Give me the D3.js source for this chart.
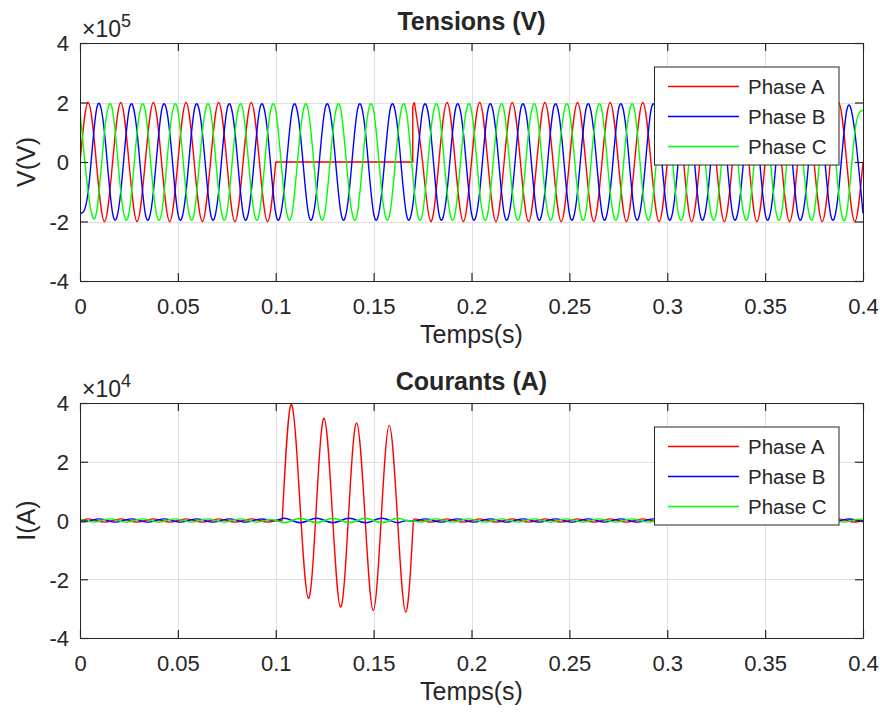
<!DOCTYPE html>
<html>
<head>
<meta charset="utf-8">
<script src="https://cdn.jsdelivr.net/npm/d3@7"></script>
<style>
  html, body { margin: 0; padding: 0; background: #ffffff; }
  svg { display: block; }
  text { font-family: "Liberation Sans", Arial, Helvetica, sans-serif; fill: #262626; }
</style>
</head>
<body>
<svg id="chart" width="880" height="717"></svg>
<script>
// ---------------- DATA ----------------
// Sampling: quarter period of a 60 Hz wave (1/240 s), 97 samples from 0 to 0.4 s
const sampleStep = 1 / 240;
const sampleCount = 97;

const xTicks = [0, 0.05, 0.1, 0.15, 0.2, 0.25, 0.3, 0.35, 0.4];
const xTickLabels = ["0", "0.05", "0.1", "0.15", "0.2", "0.25", "0.3", "0.35", "0.4"];
const yTicks = [-4, -2, 0, 2, 4];
const yTickLabels = ["-4", "-2", "0", "2", "4"];

const phaseNames = ["Phase A", "Phase B", "Phase C"];

// Voltages (x 1e5 V), sampled every quarter period; null = fault interval drawn separately
const voltA = [0,2,0,-2, 0,2,0,-2, 0,2,0,-2, 0,2,0,-2, 0,2,0,-2, 0,2,0,-2, 0,
  null,null,null,null, null,null,null,null, null,null,null,null, null,null,null,null,
  2,0,-2,
  0,2,0,-2, 0,2,0,-2, 0,2,0,-2, 0,2,0,-2, 0,2,0,-2, 0,2,0,-2, 0,2,0,-2,
  0,2,0,-2, 0,2,0,-2, 0,2,0,-2, 0,2,0,-2, 0,2,0,-2, 0,2,0,-2, 0];
const voltB = [-1.73,-1,1.73,1, -1.73,-1,1.73,1, -1.73,-1,1.73,1, -1.73,-1,1.73,1,
  -1.73,-1,1.73,1, -1.73,-1,1.73,1, -1.73,-1,1.73,1, -1.73,-1,1.73,1,
  -1.73,-1,1.73,1, -1.73,-1,1.73,1, -1.73,-1,1.73,1, -1.73,-1,1.73,1,
  -1.73,-1,1.73,1, -1.73,-1,1.73,1, -1.73,-1,1.73,1, -1.73,-1,1.73,1,
  -1.73,-1,1.73,1, -1.73,-1,1.73,1, -1.73,-1,1.73,1, -1.73,-1,1.73,1,
  -1.73,-1,1.73,1, -1.73,-1,1.73,1, -1.73,-1,1.73,1, -1.73,-1,1.73,1, -1.73];
const voltC = [1.73,-1,-1.73,1, 1.73,-1,-1.73,1, 1.73,-1,-1.73,1, 1.73,-1,-1.73,1,
  1.73,-1,-1.73,1, 1.73,-1,-1.73,1, 1.73,-1,-1.73,1, 1.73,-1,-1.73,1,
  1.73,-1,-1.73,1, 1.73,-1,-1.73,1, 1.73,-1,-1.73,1, 1.73,-1,-1.73,1,
  1.73,-1,-1.73,1, 1.73,-1,-1.73,1, 1.73,-1,-1.73,1, 1.73,-1,-1.73,1,
  1.73,-1,-1.73,1, 1.73,-1,-1.73,1, 1.73,-1,-1.73,1, 1.73,-1,-1.73,1,
  1.73,-1,-1.73,1, 1.73,-1,-1.73,1, 1.73,-1,-1.73,1, 1.73,-1,-1.73,1, 1.73];
// Phase A voltage during the fault: [time s, value]
const voltAFault = [[0.1, 0], [0.17, 0], [0.17, 1.9]];

// Currents (x 1e4 A)
const currA = [0,0.055,0,-0.055, 0,0.055,0,-0.055, 0,0.055,0,-0.055, 0,0.055,0,-0.055,
  0,0.055,0,-0.055, 0,0.055,0,-0.055, 0,
  null,null,null,null, null,null,null,null, null,null,null,null, null,null,null,null,
  0.055,0,-0.055,
  0,0.055,0,-0.055, 0,0.055,0,-0.055, 0,0.055,0,-0.055, 0,0.055,0,-0.055,
  0,0.055,0,-0.055, 0,0.055,0,-0.055, 0,0.055,0,-0.055, 0,0.055,0,-0.055,
  0,0.055,0,-0.055, 0,0.055,0,-0.055, 0,0.055,0,-0.055, 0,0.055,0,-0.055,
  0,0.055,0,-0.055, 0];
const currB = [-0.048,-0.028,0.048,0.028, -0.048,-0.028,0.048,0.028, -0.048,-0.028,0.048,0.028,
  -0.048,-0.028,0.048,0.028, -0.048,-0.028,0.048,0.028, -0.048,-0.028,0.048,0.028, 0,
  0.075,0,-0.075,0, 0.075,0,-0.075,0, 0.075,0,-0.075,0, 0.075,0,-0.075,0,
  -0.028,0.048,0.028,
  -0.048,-0.028,0.048,0.028, -0.048,-0.028,0.048,0.028, -0.048,-0.028,0.048,0.028,
  -0.048,-0.028,0.048,0.028, -0.048,-0.028,0.048,0.028, -0.048,-0.028,0.048,0.028,
  -0.048,-0.028,0.048,0.028, -0.048,-0.028,0.048,0.028, -0.048,-0.028,0.048,0.028,
  -0.048,-0.028,0.048,0.028, -0.048,-0.028,0.048,0.028, -0.048,-0.028,0.048,0.028,
  -0.048,-0.028,0.048,0.028, -0.048];
const currC = [0.048,-0.028,-0.048,0.028, 0.048,-0.028,-0.048,0.028, 0.048,-0.028,-0.048,0.028,
  0.048,-0.028,-0.048,0.028, 0.048,-0.028,-0.048,0.028, 0.048,-0.028,-0.048,0.028, 0,
  -0.075,0,0.075,0, -0.075,0,0.075,0, -0.075,0,0.075,0, -0.075,0,0.075,0,
  -0.028,-0.048,0.028,
  0.048,-0.028,-0.048,0.028, 0.048,-0.028,-0.048,0.028, 0.048,-0.028,-0.048,0.028,
  0.048,-0.028,-0.048,0.028, 0.048,-0.028,-0.048,0.028, 0.048,-0.028,-0.048,0.028,
  0.048,-0.028,-0.048,0.028, 0.048,-0.028,-0.048,0.028, 0.048,-0.028,-0.048,0.028,
  0.048,-0.028,-0.048,0.028, 0.048,-0.028,-0.048,0.028, 0.048,-0.028,-0.048,0.028,
  0.048,-0.028,-0.048,0.028, 0.048];
// Phase A fault current (x 1e4 A): peaks, troughs and mid-points
const currAFault = [[0.1033, 0], [0.1078, 3.95], [0.1123, 0.65], [0.1167, -2.65],
  [0.1207, 0.42], [0.1247, 3.48], [0.1289, 0.27], [0.1331, -2.95],
  [0.1372, 0.18], [0.1413, 3.32], [0.1456, 0.13], [0.1498, -3.06],
  [0.1539, 0.09], [0.1580, 3.24], [0.1622, 0.06], [0.1664, -3.12], [0.1703, 0]];

// ---------------- DRAWING ----------------
const time = d3.range(sampleCount).map(k => k * sampleStep);
const colors = ["#ff0000", "#0000ff", "#00ff00"];
const axisColor = "#262626";
const gridColor = "#dfdfdf";
const svg = d3.select("#chart");

const X0 = 80, X1 = 863;
const x = d3.scaleLinear().domain([0, 0.4]).range([X0, X1]);

const panels = [
  { top: 43, bottom: 281, title: "Tensions (V)", ylabel: "V(V)", exp: "5",
    series: [
      { values: voltA, fault: voltAFault, faultCurve: d3.curveLinear },
      { values: voltB }, { values: voltC }] },
  { top: 403, bottom: 638, title: "Courants (A)", ylabel: "I(A)", exp: "4",
    series: [
      { values: currA, fault: currAFault, faultCurve: d3.curveNatural },
      { values: currB }, { values: currC }] }
];

panels.forEach((p, pi) => {
  const y = d3.scaleLinear().domain([-4, 4]).range([p.bottom, p.top]);
  const g = svg.append("g");
  const clipId = "clip" + pi;
  svg.append("clipPath").attr("id", clipId).append("rect")
    .attr("x", X0).attr("y", p.top).attr("width", X1 - X0).attr("height", p.bottom - p.top);

  // grid
  const grid = g.append("g");
  grid.selectAll(".gx").data(xTicks).join("line")
    .attr("x1", d => Math.round(x(d)) + 0.5).attr("x2", d => Math.round(x(d)) + 0.5)
    .attr("y1", p.top).attr("y2", p.bottom)
    .attr("stroke", gridColor).attr("stroke-width", 1);
  grid.selectAll(".gy").data(yTicks).join("line")
    .attr("y1", d => Math.round(y(d)) + 0.5).attr("y2", d => Math.round(y(d)) + 0.5)
    .attr("x1", X0).attr("x2", X1)
    .attr("stroke", gridColor).attr("stroke-width", 1);

  // data
  const dataG = g.append("g").attr("clip-path", `url(#${clipId})`);
  const lineNat = d3.line().x(d => x(d[0])).y(d => y(d[1])).curve(d3.curveNatural);
  const lineLin = d3.line().x(d => x(d[0])).y(d => y(d[1]));
  p.series.forEach((s, si) => {
    const col = colors[si];
    let runs = [], cur = [];
    s.values.forEach((v, i) => {
      if (v === null) { if (cur.length) runs.push(cur); cur = []; }
      else cur.push([time[i], v]);
    });
    if (cur.length) runs.push(cur);
    runs.forEach(r => {
      dataG.append("path").attr("d", lineNat(r)).attr("fill", "none")
        .attr("stroke", col).attr("stroke-width", 1.4);
    });
    if (s.fault) {
      const f = s.fault;
      const t0 = f[0][0], t1 = f[f.length - 1][0];
      let prevI = -1, nextI = -1;
      s.values.forEach((v, i) => {
        if (v !== null && time[i] <= t0 + 1e-9) prevI = i;
        if (v !== null && time[i] > t1 && nextI < 0) nextI = i;
      });
      const fl = d3.line().x(d => x(d[0])).y(d => y(d[1])).curve(s.faultCurve);
      dataG.append("path").attr("d", fl(f)).attr("fill", "none")
        .attr("stroke", col).attr("stroke-width", 1.4);
      const conn = [];
      if (prevI >= 0) conn.push([[time[prevI], s.values[prevI]], f[0]]);
      if (nextI >= 0) conn.push([f[f.length - 1], [time[nextI], s.values[nextI]]]);
      conn.forEach(c => dataG.append("path").attr("d", lineLin(c)).attr("fill", "none")
        .attr("stroke", col).attr("stroke-width", 1.4));
    }
  });

  // axes (MATLAB style: ticks inside, box on)
  const axB = g.append("g").attr("transform", `translate(0,${p.bottom})`)
    .call(d3.axisBottom(x).tickValues(xTicks).tickFormat((d, i) => xTickLabels[i])
      .tickSizeInner(-8).tickSizeOuter(0));
  axB.selectAll("text").attr("y", 33).attr("dy", 0).style("font-size", "22px");
  const axT = g.append("g").attr("transform", `translate(0,${p.top})`)
    .call(d3.axisTop(x).tickValues(xTicks).tickFormat("").tickSizeInner(-8).tickSizeOuter(0));
  const axL = g.append("g").attr("transform", `translate(${X0},0)`)
    .call(d3.axisLeft(y).tickValues(yTicks).tickFormat((d, i) => yTickLabels[i])
      .tickSizeInner(-8).tickSizeOuter(0));
  axL.selectAll("text").attr("x", -11).attr("dy", "0.36em").style("font-size", "22px");
  const axR = g.append("g").attr("transform", `translate(${X1},0)`)
    .call(d3.axisRight(y).tickValues(yTicks).tickFormat("").tickSizeInner(-8).tickSizeOuter(0));
  [axB, axT, axL, axR].forEach(a => {
    a.selectAll("path.domain").attr("stroke", axisColor).attr("stroke-width", 1);
    a.selectAll(".tick line").attr("stroke", axisColor).attr("stroke-width", 1.2);
    a.attr("font-family", null).attr("font-size", null);
  });

  // title
  g.append("text").attr("x", (X0 + X1) / 2).attr("y", p.top - 13)
    .attr("text-anchor", "middle").style("font-size", "25px").style("font-weight", "bold")
    .text(p.title);
  // x label
  g.append("text").attr("x", (X0 + X1) / 2).attr("y", p.bottom + 62)
    .attr("text-anchor", "middle").style("font-size", "25px").text("Temps(s)");
  // y label
  g.append("text").attr("transform", `translate(35,${(p.top + p.bottom) / 2}) rotate(-90)`)
    .attr("text-anchor", "middle").style("font-size", "25px").text(p.ylabel);
  // exponent
  const ex = g.append("text").attr("x", 82).attr("y", p.top - 6).style("font-size", "23px");
  ex.append("tspan").text("\u00d710");
  ex.append("tspan").attr("dy", -10).style("font-size", "18px").text(p.exp);

  // legend
  const lgTop = p.top + 23.5;
  const lg = g.append("g");
  lg.append("rect").attr("x", 654.5).attr("y", lgTop + 0.5).attr("width", 184.5).attr("height", 98)
    .attr("fill", "#ffffff").attr("stroke", axisColor).attr("stroke-width", 1);
  phaseNames.forEach((n, i) => {
    const ry = lgTop + 20 + i * 30;
    lg.append("line").attr("x1", 668).attr("x2", 739).attr("y1", ry).attr("y2", ry)
      .attr("stroke", colors[i]).attr("stroke-width", 1.4);
    lg.append("text").attr("x", 748).attr("y", ry + 7.5).style("font-size", "20.5px").text(n);
  });
});
</script>
</body>
</html>
